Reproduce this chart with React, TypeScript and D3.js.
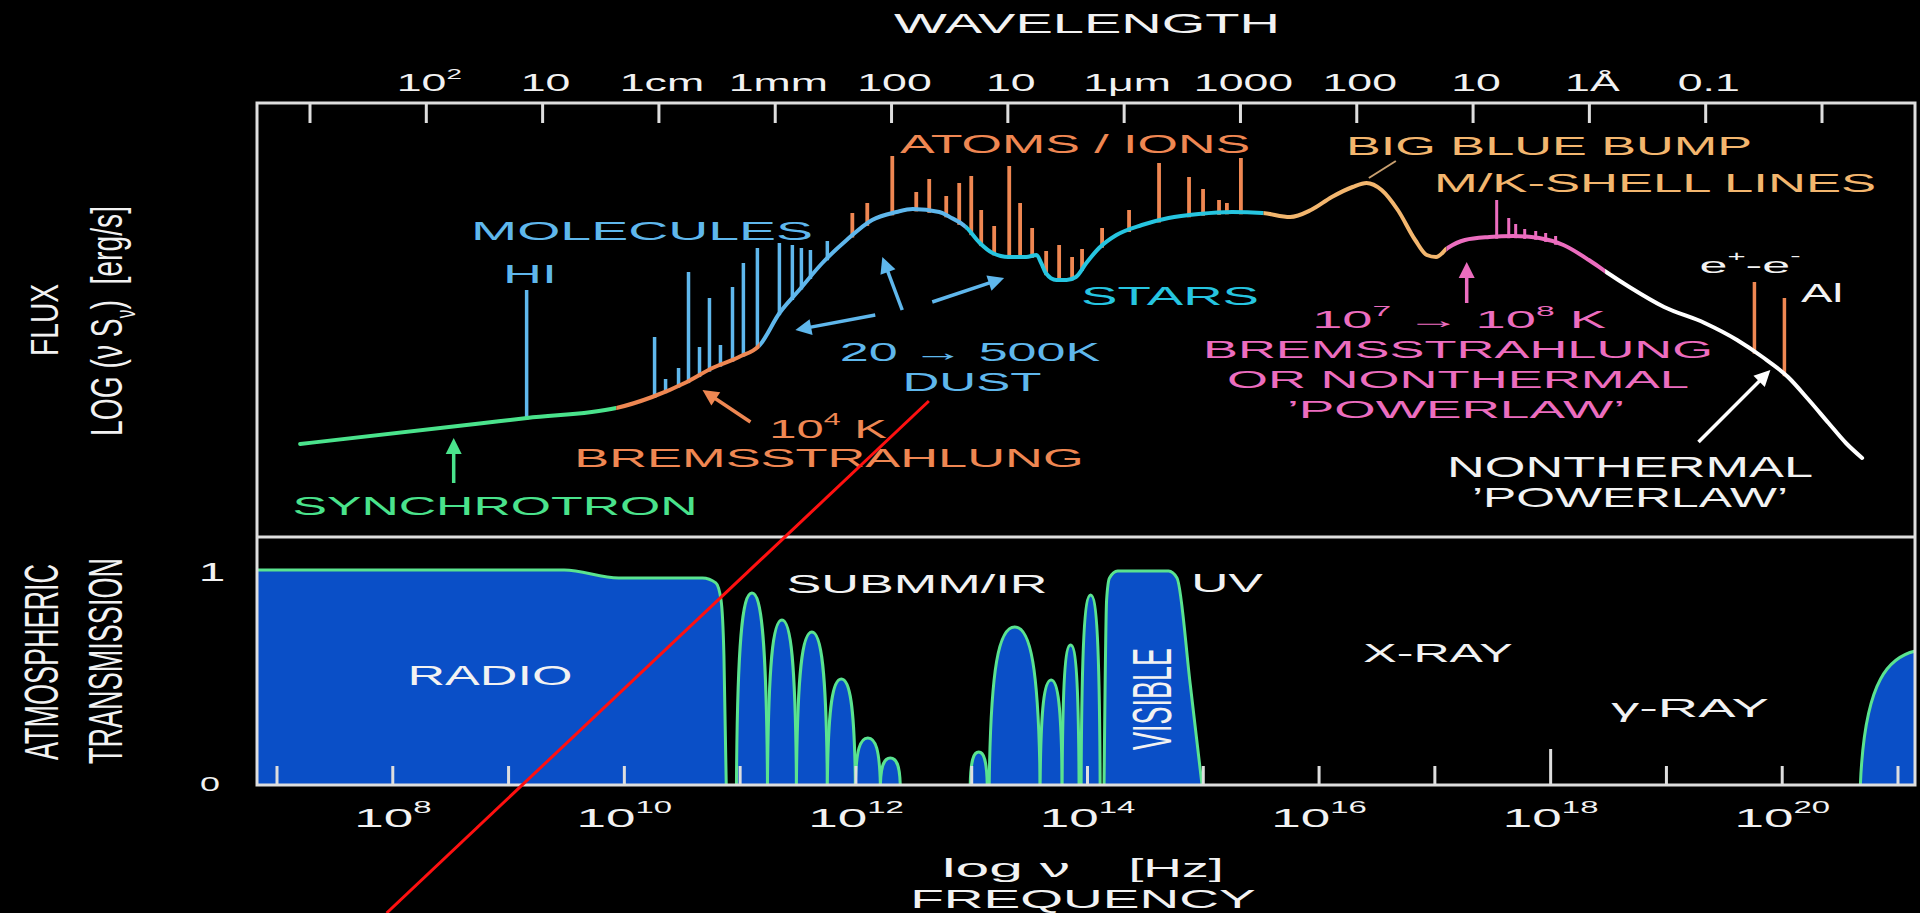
import React, { useLayoutEffect, useRef, useState } from 'react';
import * as d3 from 'd3';

// ---------- DATA ----------
// spectral energy distribution: [log10 nu (Hz), log nuS_nu (arbitrary units)]
const sedCurve: [number, number][] = [
  [7.2, 37.86], [8.75, 38.27], [9.16, 38.38], [9.93, 38.58], [10.24, 38.8], [10.54, 39.1],
  [10.76, 39.38], [10.99, 39.6], [11.17, 39.84], [11.34, 40.48], [11.51, 40.94], [11.71, 41.48],
  [11.92, 41.94], [12.14, 42.34], [12.35, 42.5], [12.49, 42.56], [12.72, 42.5], [12.81, 42.4],
  [12.95, 42.2], [13.07, 41.88], [13.18, 41.68], [13.32, 41.6], [13.47, 41.6], [13.56, 41.64],
  [13.6, 41.48], [13.64, 41.28], [13.73, 41.14], [13.82, 41.14], [13.9, 41.2], [13.99, 41.48],
  [14.1, 41.78], [14.25, 42.04], [14.47, 42.24], [14.7, 42.38], [14.96, 42.46], [15.25, 42.5],
  [15.51, 42.48], [15.75, 42.4], [15.93, 42.54], [16.11, 42.8], [16.29, 43.0], [16.41, 43.08],
  [16.54, 42.94], [16.68, 42.54], [16.83, 41.94], [16.93, 41.64], [17.01, 41.6], [17.11, 41.78],
  [17.26, 41.94], [17.47, 42.0], [17.68, 42.02], [17.9, 41.98], [18.11, 41.84], [18.33, 41.54],
  [18.48, 41.3], [18.68, 41.0], [18.98, 40.6], [19.33, 40.28], [19.61, 39.94], [19.83, 39.6],
  [20.05, 39.2], [20.23, 38.74], [20.4, 38.28], [20.55, 37.88], [20.69, 37.58],
];
// colour components of the curve: [from log nu, to log nu]
const segFrom = [6, 9.93, 11.17, 12.95, 15.52, 17.1, 18.47];
const segTo = [9.93, 11.17, 12.95, 15.52, 17.1, 18.47, 22];
const segColor = ['#4ae38c', '#ef8752', '#5fb7ec', '#26c5e0', '#f3b66e', '#ec6dbf', '#ffffff'];

const hiLine: [number, number][] = [[9.156, 40.94]];
const moleculeLines: [number, number][] = [
  [10.261, 40.0], [10.356, 39.16], [10.468, 39.38], [10.554, 41.3], [10.649, 39.8], [10.735, 40.78],
  [10.83, 39.84], [10.934, 41.0], [11.028, 41.48], [11.149, 41.78], [11.339, 41.88], [11.451, 41.84],
  [11.529, 41.78], [11.607, 41.74], [11.753, 41.92],
];
const atomLines: [number, number][] = [
  [11.969, 42.48], [12.098, 42.68], [12.314, 43.62], [12.521, 42.9], [12.633, 43.16], [12.78, 42.82],
  [12.892, 43.08], [12.996, 43.22], [13.082, 42.54], [13.194, 42.22], [13.324, 43.42], [13.418, 42.68],
  [13.522, 42.18], [13.643, 41.72], [13.755, 41.84], [13.867, 41.6], [13.953, 41.76], [14.126, 42.18],
  [14.359, 42.54], [14.618, 43.48], [14.877, 43.2], [14.998, 42.96], [15.136, 42.74], [15.204, 42.68],
  [15.325, 43.58],
];
const shellLines: [number, number][] = [
  [17.534, 42.74], [17.638, 42.38], [17.698, 42.26], [17.776, 42.16], [17.871, 42.12], [17.957, 42.08], [18.043, 42.02],
];
const gammaLines: [number, number][] = [[19.76, 41.1], [20.019, 40.78]];

// annotation arrows in data space [log nu, flux]
const arrowFrom: [number, number][] = [[8.526, 37.08], [11.089, 38.3], [12.4, 40.54], [12.167, 40.44], [12.659, 40.7], [17.275, 40.68], [19.277, 37.9]];
const arrowTo: [number, number][] = [[8.526, 37.98], [10.675, 38.94], [12.228, 41.6], [11.477, 40.14], [13.28, 41.18], [17.275, 41.5], [19.898, 39.34]];
const arrowColor = ['#4ae38c', '#ef8752', '#5fb7ec', '#5fb7ec', '#5fb7ec', '#ec6dbf', '#ffffff'];
const bumpLeader: [number, number][] = [[16.43, 43.18], [16.663, 43.52]];
const redMark: [number, number][] = [[12.63, 38.72], [7.947, 28.48]];

// atmospheric transmission [log nu, transmission]
const radioWindow: [number, number][] = [
  [6.8, 0], [6.81, 1.0], [9.48, 1.0], [9.95, 0.963], [10.675, 0.963], [10.79, 0.94], [10.835, 0.86], [10.86, 0.6], [10.88, 0],
];
const visibleWindow: [number, number][] = [
  [14.143, 0], [14.165, 0.86], [14.19, 0.963], [14.26, 0.995], [14.7, 0.995], [14.773, 0.963], [14.887, 0.47], [14.989, 0],
];
// narrow windows: [low log nu, high log nu, peak transmission]
const domeWindows: [number, number, number][] = [
  [10.968, 11.236, 0.893], [11.236, 11.486, 0.767], [11.486, 11.753, 0.712], [11.753, 11.995, 0.493],
  [11.995, 12.211, 0.219], [12.211, 12.383, 0.126],
  [12.987, 13.134, 0.153], [13.151, 13.591, 0.735], [13.591, 13.781, 0.488], [13.781, 13.927, 0.651],
  [13.945, 14.109, 0.884],
  [20.675, 21.87, 0.63],
];

const freqTicks = [7, 8, 9, 10, 11, 12, 13, 14, 15, 16, 17, 18, 19, 20, 21];
const freqLabelExp = [8, 10, 12, 14, 16, 18, 20];
const lambdaTicks = [3, 2, 1, 0, -1, -2, -3, -4, -5, -6, -7, -8, -9, -10];
const lambdaLabelAt = [2, 1, 0, -1, -2, -3, -4, -5, -6, -7, -8, -9];
const lambdaLabel = ['10', '10', '1cm', '1mm', '100', '10', '1μm', '1000', '100', '10', '1Å', '0.1'];

// ---------- STYLE ----------
const FONT = "'Liberation Sans', Arial, Helvetica, sans-serif";
const ORANGE = '#ef8752';
const LBLUE = '#5fb7ec';
const CYAN = '#26c5e0';
const BBB = '#f3b66e';
const PINK = '#ec6dbf';
const GREEN = '#4ae38c';
const TXT = '#f2f2f2';
const FILL = '#0a4fc7';
const OUTLINE = '#5ae38f';
const FRAME = '#dedede';

type Part = string | { sup: string } | { sub: string };
function rich(parts: Part[], cap: number) {
  const fs = cap / 0.716;
  const small = fs * 0.62;
  const up = cap * 0.72;
  const down = cap * 0.4;
  let off = 0;
  return parts.map((p, i) => {
    if (typeof p === 'string') {
      const dy = -off;
      off = 0;
      return <tspan key={i} dy={dy}>{p}</tspan>;
    }
    if ('sup' in p) {
      const dy = -up - off;
      off = -up;
      return <tspan key={i} dy={dy} fontSize={small}>{p.sup}</tspan>;
    }
    const dy = down - off;
    off = down;
    return <tspan key={i} dy={dy} fontSize={small}>{p.sub}</tspan>;
  });
}

function FT({ x, y, cap, w, sx = 1, fill = TXT, rot = false, children }: any) {
  const ref = useRef<SVGTextElement>(null);
  const [s, setS] = useState<number>(w ? 1 : sx);
  useLayoutEffect(() => {
    if (w && ref.current) {
      const bb = ref.current.getBBox();
      if (bb.width > 0) setS(w / bb.width);
    }
  }, [w]);
  const fs = cap / 0.716;
  return (
    <g transform={`translate(${x},${y})${rot ? ' rotate(-90)' : ''} scale(${s},1)`}>
      <text ref={ref} textAnchor="middle" fontFamily={FONT} fontSize={fs} fill={fill} style={{ whiteSpace: 'pre' }}>
        {children}
      </text>
    </g>
  );
}

function Arrow({ p0, p1, color, head = true }: { p0: [number, number]; p1: [number, number]; color: string; head?: boolean }) {
  const [x1, y1] = p0;
  const [x2, y2] = p1;
  const dx = x2 - x1, dy = y2 - y1;
  const L = Math.hypot(dx, dy);
  const ux = dx / L, uy = dy / L;
  const hl = 16, hw = 8;
  const bx = x2 - ux * hl, by = y2 - uy * hl;
  if (!head) return <line x1={x1} y1={y1} x2={x2} y2={y2} stroke={color} strokeWidth={2} />;
  const pts = [[x2, y2], [bx - uy * hw, by + ux * hw], [bx + uy * hw, by - ux * hw]].map((p) => p.join(',')).join(' ');
  return (
    <g>
      <line x1={x1} y1={y1} x2={bx + ux * 3} y2={by + uy * 3} stroke={color} strokeWidth={3.5} />
      <polygon points={pts} fill={color} />
    </g>
  );
}

export default function App() {
  const W = 1920, H = 913;
  const fr = { l: 257, r: 1915, t: 103, m: 537, b: 785 };

  const x = d3.scaleLinear().domain([7, 21]).range([277, 1898]);
  const xw = d3.scaleLinear().domain([3, -10]).range([310, 1822]);
  const yF = d3.scaleLinear().domain([36, 44.68]).range([fr.m, fr.t]);
  const yT = d3.scaleLinear().domain([0, 1]).range([fr.b, 570]);

  const bis = d3.bisector((d: [number, number]) => d[0]).right;
  const fluxAt = (lv: number) => {
    const i = Math.max(1, Math.min(sedCurve.length - 1, bis(sedCurve, lv)));
    const a = sedCurve[i - 1], b = sedCurve[i];
    return a[1] + ((b[1] - a[1]) * (lv - a[0])) / (b[0] - a[0]);
  };

  const sedLine = d3.line<[number, number]>().x((d) => x(d[0])).y((d) => yF(d[1])).curve(d3.curveMonotoneX);
  const sedPath = sedLine(sedCurve) || '';
  const transLine = d3.line<[number, number]>().x((d) => x(d[0])).y((d) => yT(d[1])).curve(d3.curveMonotoneX);

  const dome = ([lo, hi, pk]: [number, number, number]) => {
    const x0 = x(lo), x1 = x(hi), xm = (x0 + x1) / 2, a = (x1 - x0) / 2;
    const yb = yT(0), yt = yT(pk), h = yb - yt;
    const p = d3.path();
    p.moveTo(x0, yb);
    p.bezierCurveTo(x0 + a * 0.06, yb - h * 0.75, xm - a * 0.62, yt, xm, yt);
    p.bezierCurveTo(xm + a * 0.62, yt, x1 - a * 0.06, yb - h * 0.75, x1, yb);
    return p.toString();
  };

  const pt = (d: [number, number]): [number, number] => [x(d[0]), yF(d[1])];
  const lineMarks = (data: [number, number][], color: string, sw: number, key: string) =>
    data.map(([lv, top], i) => (
      <line key={key + i} x1={x(lv)} x2={x(lv)} y1={yF(top)} y2={yF(fluxAt(lv)) + 2} stroke={color} strokeWidth={sw} />
    ));

  return (
    <svg width={W} height={H} viewBox={`0 0 ${W} ${H}`} style={{ position: 'absolute', left: 0, top: 0, background: '#000' }}>
      <defs>
        {segFrom.map((f, i) => (
          <clipPath id={`seg${i}`} key={i}>
            <rect x={x(f)} y={0} width={x(segTo[i]) - x(f)} height={H} />
          </clipPath>
        ))}
        <clipPath id="lowerClip">
          <rect x={fr.l} y={fr.m} width={fr.r - fr.l} height={fr.b - fr.m} />
        </clipPath>
      </defs>
      <rect x={0} y={0} width={W} height={H} fill="#000" />

      {/* ---- top wavelength axis ---- */}
      <FT x={1087} y={33} cap={20} w={386}>WAVELENGTH</FT>
      {lambdaLabelAt.map((v, i) => (
        <FT key={'wl' + i} x={xw(v) + 3} y={91} cap={17} sx={1.88}>
          {i === 0 ? rich(['10', { sup: '2' }], 17) : lambdaLabel[i]}
        </FT>
      ))}
      {lambdaTicks.map((v) => (
        <line key={'wt' + v} x1={xw(v)} x2={xw(v)} y1={fr.t} y2={fr.t + 20} stroke={FRAME} strokeWidth={3} />
      ))}

      {/* ---- upper panel: spectral lines ---- */}
      {lineMarks(hiLine, LBLUE, 3.5, 'hi')}
      {lineMarks(moleculeLines, LBLUE, 3.5, 'mol')}
      {lineMarks(atomLines, ORANGE, 3.8, 'at')}
      {lineMarks(shellLines, PINK, 3, 'sh')}
      {lineMarks(gammaLines, ORANGE, 3.5, 'ga')}

      {/* SED curve, coloured by component */}
      {segFrom.map((f, i) => (
        <path key={'sed' + i} d={sedPath} fill="none" stroke={segColor[i]} strokeWidth={4} clipPath={`url(#seg${i})`} strokeLinecap="round" />
      ))}

      {arrowFrom.map((f, i) => (
        <Arrow key={'ar' + i} p0={pt(f)} p1={pt(arrowTo[i])} color={arrowColor[i]} />
      ))}
      <Arrow p0={pt(bumpLeader[0])} p1={pt(bumpLeader[1])} color="#c9a070" head={false} />

      {/* upper labels */}
      <FT x={642} y={240} cap={18} w={342} fill={LBLUE}>MOLECULES</FT>
      <FT x={530} y={283} cap={18} w={54} fill={LBLUE}>HI</FT>
      <FT x={1075} y={153} cap={18} w={350} fill={ORANGE}>ATOMS / IONS</FT>
      <FT x={1170} y={305} cap={18} w={178} fill={CYAN}>STARS</FT>
      <FT x={1549} y={155} cap={18} w={406} fill={BBB}>BIG BLUE BUMP</FT>
      <FT x={1655} y={192} cap={19} w={442} fill={BBB}>M/K-SHELL LINES</FT>
      <FT x={970} y={361} cap={18} w={261} fill={LBLUE}>20 → 500K</FT>
      <FT x={972} y={391} cap={18} w={139} fill={LBLUE}>DUST</FT>
      <FT x={828} y={438} cap={18} w={118} fill={ORANGE}>{rich(['10', { sup: '4' }, ' K'], 18)}</FT>
      <FT x={829} y={467} cap={19} w={509} fill={ORANGE}>BREMSSTRAHLUNG</FT>
      <FT x={495} y={515} cap={19} w={405} fill={GREEN}>SYNCHROTRON</FT>
      <FT x={1459} y={328} cap={17} w={294} fill={PINK}>{rich(['10', { sup: '7' }, ' → 10', { sup: '8' }, ' K'], 17)}</FT>
      <FT x={1458} y={358} cap={17} w={510} fill={PINK}>BREMSSTRAHLUNG</FT>
      <FT x={1458} y={388} cap={17} w={462} fill={PINK}>OR NONTHERMAL</FT>
      <FT x={1456} y={418} cap={17} w={338} fill={PINK}>’POWERLAW’</FT>
      <FT x={1750} y={273} cap={16} w={101}>{rich(['e', { sup: '+' }, '-e', { sup: '-' }], 16)}</FT>
      <FT x={1822} y={302} cap={19} w={42}>Al</FT>
      <FT x={1630} y={477} cap={21} w={366}>NONTHERMAL</FT>
      <FT x={1630} y={507} cap={20} w={316}>’POWERLAW’</FT>

      {/* ---- lower panel: atmospheric transmission ---- */}
      <g clipPath="url(#lowerClip)">
        <path d={transLine(radioWindow) || ''} fill={FILL} stroke={OUTLINE} strokeWidth={3} />
        {domeWindows.map((w, i) => (
          <path key={'dw' + i} d={dome(w)} fill={FILL} stroke={OUTLINE} strokeWidth={3} />
        ))}
        <path d={transLine(visibleWindow) || ''} fill={FILL} stroke={OUTLINE} strokeWidth={3} />
      </g>
      {freqTicks.map((v) => (
        <line key={'ft' + v} x1={x(v)} x2={x(v)} y1={fr.b} y2={v === 18 ? fr.b - 36 : fr.b - 19} stroke={FRAME} strokeWidth={3} />
      ))}

      <FT x={490} y={685} cap={20} w={165}>RADIO</FT>
      <FT x={917} y={593} cap={19} w={261}>SUBMM/IR</FT>
      <FT x={1227} y={592} cap={19} w={72}>UV</FT>
      <FT x={1438} y={662} cap={19} w={150}>X-RAY</FT>
      <FT x={1690} y={717} cap={18} w={158}>γ-RAY</FT>
      <FT x={1171} y={699} cap={40} w={102} rot>VISIBLE</FT>

      {/* frame */}
      <rect x={fr.l} y={fr.t} width={fr.r - fr.l} height={fr.b - fr.t} fill="none" stroke={FRAME} strokeWidth={3} />
      <line x1={fr.l} x2={fr.r} y1={fr.m} y2={fr.m} stroke={FRAME} strokeWidth={3} />

      {/* left axis titles */}
      <FT x={58} y={320} cap={28} w={72} rot>FLUX</FT>
      <FT x={122} y={321} cap={32} w={230} rot>{rich(['LOG (ν S', { sub: 'ν' }, ')  [erg/s]'], 32)}</FT>
      <FT x={58} y={662} cap={34} w={196} rot>ATMOSPHERIC</FT>
      <FT x={122} y={661} cap={34} w={206} rot>TRANSMISSION</FT>
      <FT x={212} y={581} cap={18} sx={1.9}>1</FT>
      <FT x={210} y={791} cap={15} w={20}>0</FT>

      {/* bottom frequency axis */}
      {freqLabelExp.map((e) => (
        <FT key={'fl' + e} x={x(e)} y={827} cap={19} sx={2.0}>{rich(['10', { sup: String(e) }], 19)}</FT>
      ))}
      <FT x={1006} y={877} cap={19} w={128}>log ν</FT>
      <FT x={1176} y={877} cap={19} w={95}>[Hz]</FT>
      <FT x={1083} y={908} cap={18} w={346}>FREQUENCY</FT>

      {/* red annotation stroke */}
      <path d={d3.line<[number, number]>().x((d) => x(d[0])).y((d) => yF(d[1]))(redMark) || ''} stroke="#ff1010" strokeWidth={3} fill="none" />
    </svg>
  );
}
